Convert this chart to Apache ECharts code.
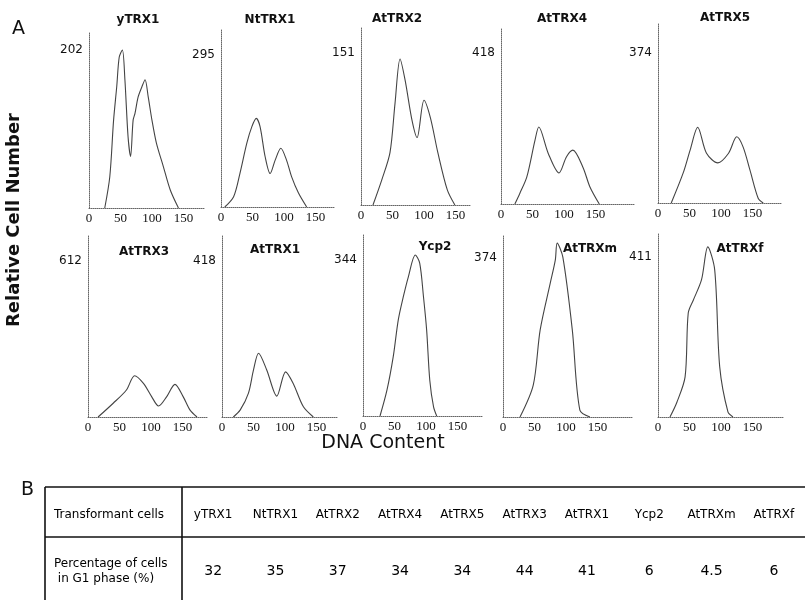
<!DOCTYPE html>
<html>
<head>
<meta charset="utf-8">
<script src="https://cdn.jsdelivr.net/npm/echarts@6/dist/echarts.min.js"></script>
<style>html,body{margin:0;padding:0;background:#fff;}#c{width:805px;height:600px;}</style>
</head>
<body>
<div id="c"></div>
<script>
// ---------- DATA ----------
const panelNames = ['yTRX1','NtTRX1','AtTRX2','AtTRX4','AtTRX5','AtTRX3','AtTRX1','Ycp2','AtTRXm','AtTRXf'];
const peakLabels = [202, 295, 151, 418, 374, 612, 418, 344, 374, 411];
const xTicks = [0, 50, 100, 150];

const yTRX1_dna   = [25, 33, 39, 44, 48, 53, 57, 62, 66, 70, 73, 78, 84, 89, 94, 100, 107, 118, 129, 142];
const yTRX1_cells = [0, 40, 112, 155, 193, 202, 164, 91, 66, 112, 121, 142, 155, 164, 142, 112, 83, 53, 23, 0];

const NtTRX1_dna   = [6, 20, 30, 41, 49, 56, 62, 70, 78, 86, 95, 104, 112, 123, 136];
const NtTRX1_cells = [0, 20, 65, 124, 156, 172, 156, 98, 65, 91, 114, 91, 59, 27, 0];

const AtTRX2_dna   = [19, 33, 46, 54, 62, 70, 81, 89, 100, 110, 122, 137, 149];
const AtTRX2_cells = [0, 25, 52, 101, 145, 124, 84, 67, 104, 87, 52, 15, 0];

const AtTRX4_dna   = [22, 30, 41, 54, 60, 75, 92, 104, 114, 130, 141, 156];
const AtTRX4_cells = [0, 30, 75, 177, 213, 140, 86, 131, 149, 102, 48, 0];

const AtTRX5_dna   = [21, 40, 51, 63, 77, 95, 112, 125, 135, 146, 159, 167];
const AtTRX5_cells = [0, 75, 132, 189, 124, 100, 124, 165, 140, 82, 12, 0];

const AtTRX3_dna   = [16, 40, 61, 74, 88, 101, 112, 125, 138, 151, 162, 173];
const AtTRX3_cells = [0, 54, 106, 162, 132, 80, 43, 80, 128, 80, 27, 0];

const AtTRX1_dna   = [18, 29, 42, 50, 58, 71, 87, 101, 113, 129, 145];
const AtTRX1_cells = [0, 19, 64, 126, 171, 126, 56, 121, 90, 28, 0];

const Ycp2_dna   = [27, 38, 48, 56, 64, 72, 83, 90, 96, 101, 106, 112, 117];
const Ycp2_cells = [0, 57, 131, 212, 263, 307, 355, 337, 263, 190, 79, 20, 0];

const AtTRXm_dna   = [27, 48, 59, 75, 83, 86, 95, 110, 122, 138];
const AtTRXm_cells = [0, 75, 205, 315, 369, 409, 376, 205, 16, 0];

const AtTRXf_dna   = [19, 30, 43, 48, 56, 69, 79, 90, 98, 111, 119];
const AtTRXf_cells = [0, 38, 103, 267, 300, 352, 437, 378, 128, 13, 0];

const tableRowLabels = ['Transformant cells', 'Percentage of cells\n in G1 phase (%)'];
const tableNames = ['yTRX1','NtTRX1','AtTRX2','AtTRX4','AtTRX5','AtTRX3','AtTRX1','Ycp2','AtTRXm','AtTRXf'];
const g1Percent = [32, 35, 37, 34, 34, 44, 41, 6, 4.5, 6];

const panelDna = [yTRX1_dna, NtTRX1_dna, AtTRX2_dna, AtTRX4_dna, AtTRX5_dna, AtTRX3_dna, AtTRX1_dna, Ycp2_dna, AtTRXm_dna, AtTRXf_dna];
const panelCells = [yTRX1_cells, NtTRX1_cells, AtTRX2_cells, AtTRX4_cells, AtTRX5_cells, AtTRX3_cells, AtTRX1_cells, Ycp2_cells, AtTRXm_cells, AtTRXf_cells];

// ---------- LAYOUT (pixels) ----------
const layout = [
  {left: 89,  top: 32,  width: 116, height: 176, labelY: 50,  tx: 138, ty: 20},
  {left: 221, top: 30,  width: 114, height: 177, labelY: 55,  tx: 270, ty: 20},
  {left: 361, top: 28,  width: 109, height: 177, labelY: 53,  tx: 397, ty: 19},
  {left: 501, top: 28,  width: 134, height: 176, labelY: 53,  tx: 562, ty: 19},
  {left: 658, top: 24,  width: 124, height: 179, labelY: 53,  tx: 725, ty: 18},
  {left: 88,  top: 235, width: 119, height: 182, labelY: 261, tx: 144, ty: 252},
  {left: 222, top: 235, width: 115, height: 182, labelY: 261, tx: 275, ty: 250},
  {left: 363, top: 235, width: 120, height: 181, labelY: 260, tx: 435, ty: 247},
  {left: 503, top: 235, width: 130, height: 182, labelY: 258, tx: 590, ty: 249},
  {left: 658, top: 234, width: 125, height: 183, labelY: 257, tx: 740, ty: 249}
];
const pxPerUnit = 0.63;

const grids = [], xAxes = [], yAxes = [], series = [], graphics = [];
const axisColor = '#666';

layout.forEach((L, i) => {
  grids.push({left: L.left, top: L.top, width: L.width, height: L.height, containLabel: false});
  const baseline = L.top + L.height;
  const lab = peakLabels[i];
  const yMax = lab * L.height / (baseline - L.labelY);
  const xMax = L.width / pxPerUnit;
  xAxes.push({
    type: 'value', gridIndex: i, min: 0, max: xMax, interval: 50,
    axisLine: {show: true, onZero: false, lineStyle: {color: axisColor, width: 1, type: 'dotted'}},
    axisTick: {show: false}, splitLine: {show: false},
    axisLabel: {
      showMaxLabel: false, margin: 4,
      fontFamily: 'Liberation Serif', fontSize: 13, color: '#111',
      formatter: v => xTicks.indexOf(v) >= 0 ? String(v) : ''
    }
  });
  yAxes.push({
    type: 'value', gridIndex: i, min: 0, max: yMax, interval: lab,
    axisLine: {show: true, lineStyle: {color: axisColor, width: 1, type: 'dotted'}},
    axisTick: {show: false}, splitLine: {show: false},
    axisLabel: {
      showMaxLabel: false, showMinLabel: false, margin: 6,
      fontFamily: 'DejaVu Sans', fontSize: 12, color: '#111',
      formatter: v => Math.abs(v - lab) < 1e-6 ? String(lab) : ''
    }
  });
  series.push({
    type: 'line', xAxisIndex: i, yAxisIndex: i, smooth: 0.3, symbol: 'none',
    lineStyle: {color: '#444', width: 1.1},
    data: panelDna[i].map((x, k) => [x, panelCells[i][k]])
  });
  graphics.push({
    type: 'text', x: L.tx, y: L.ty,
    style: {text: panelNames[i], align: 'center', verticalAlign: 'middle', textAlign: 'center', textVerticalAlign: 'middle',
            font: 'bold 12px "DejaVu Sans"', fill: '#111'}
  });
});

// ---------- TABLE ----------
const tIdx = layout.length;
grids.push({left: 182, top: 487, width: 623, height: 120});
xAxes.push({type: 'category', gridIndex: tIdx, data: tableNames, show: false});
yAxes.push({
  type: 'category', gridIndex: tIdx, data: tableRowLabels, inverse: true,
  axisLine: {show: false}, axisTick: {show: false}, splitLine: {show: false},
  axisLabel: {align: 'left', margin: 128, fontFamily: 'DejaVu Sans', fontSize: 12, color: '#000', lineHeight: 15}
});
series.push({
  type: 'scatter', xAxisIndex: tIdx, yAxisIndex: tIdx, symbolSize: 0,
  itemStyle: {opacity: 1},
  label: {show: true, position: 'inside', opacity: 1, formatter: p => p.value[0], fontFamily: 'DejaVu Sans', fontSize: 12, color: '#000'},
  data: tableNames.map(n => [n, tableRowLabels[0]])
});
series.push({
  type: 'scatter', xAxisIndex: tIdx, yAxisIndex: tIdx, symbolSize: 0,
  itemStyle: {opacity: 1},
  label: {show: true, position: 'inside', opacity: 1, formatter: p => String(p.value[2]), fontFamily: 'DejaVu Sans', fontSize: 14, color: '#000'},
  data: tableNames.map((n, k) => [n, tableRowLabels[1], g1Percent[k]])
});

// table frame
const frameStyle = {stroke: '#111', lineWidth: 1.6};
graphics.push({type: 'line', shape: {x1: 45, y1: 487, x2: 805, y2: 487}, style: frameStyle});
graphics.push({type: 'line', shape: {x1: 45, y1: 537, x2: 805, y2: 537}, style: frameStyle});
graphics.push({type: 'line', shape: {x1: 45, y1: 487, x2: 45, y2: 600}, style: frameStyle});
graphics.push({type: 'line', shape: {x1: 182, y1: 487, x2: 182, y2: 600}, style: frameStyle});

// figure-level texts
graphics.push({type: 'text', x: 12, y: 29, style: {text: 'A', font: '19px "DejaVu Sans"', fill: '#111', verticalAlign: 'middle', textVerticalAlign: 'middle'}});
graphics.push({type: 'text', x: 21, y: 490, style: {text: 'B', font: '19px "DejaVu Sans"', fill: '#111', verticalAlign: 'middle', textVerticalAlign: 'middle'}});
graphics.push({type: 'text', x: 14, y: 220, rotation: Math.PI / 2,
  style: {text: 'Relative Cell Number', font: 'bold 18px "DejaVu Sans"', fill: '#111', align: 'center', verticalAlign: 'middle', textAlign: 'center', textVerticalAlign: 'middle'}});
graphics.push({type: 'text', x: 383, y: 443,
  style: {text: 'DNA Content', font: '19px "DejaVu Sans"', fill: '#111', align: 'center', verticalAlign: 'middle', textAlign: 'center', textVerticalAlign: 'middle'}});

const chart = echarts.init(document.getElementById('c'), null, {renderer: 'canvas'});
chart.setOption({
  backgroundColor: '#fff',
  animation: false,
  grid: grids,
  xAxis: xAxes,
  yAxis: yAxes,
  series: series,
  graphic: graphics
});
</script>
</body>
</html>
